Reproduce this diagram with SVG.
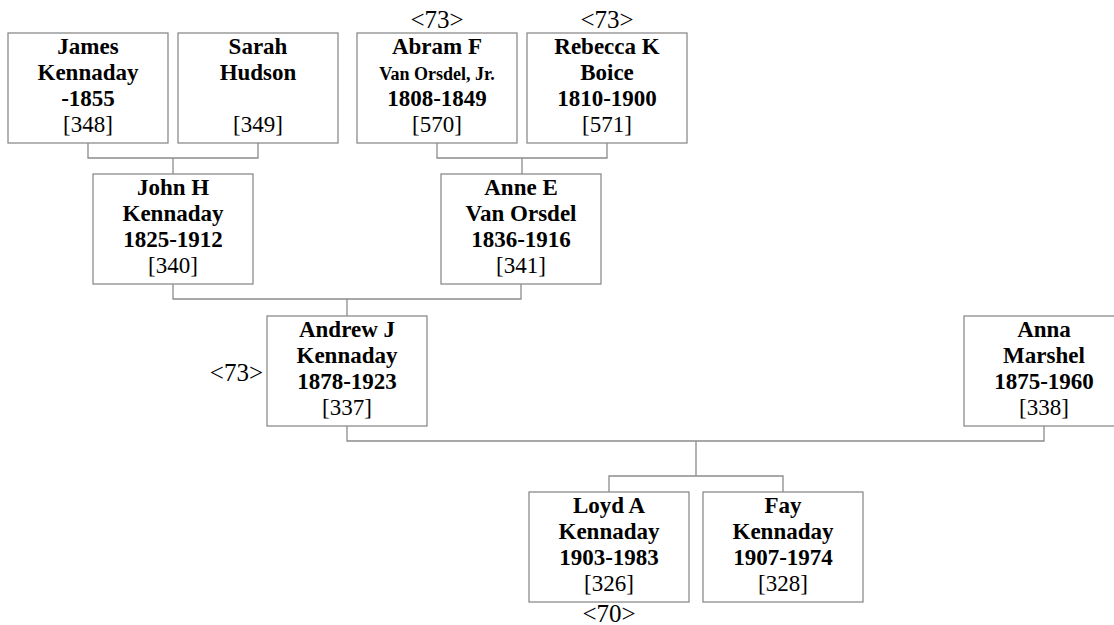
<svg xmlns="http://www.w3.org/2000/svg" width="1114" height="625" viewBox="0 0 1114 625">
<style>
rect.box{fill:#fff;stroke:#8c8c8c;stroke-width:1.3}
text{font-family:"Liberation Serif","Times New Roman",serif;fill:#000;text-anchor:middle}
.b{font-weight:bold;font-size:23px}
.s{font-weight:bold;font-size:18px}
.n{font-size:23px}
.m{font-size:25px}
#connectors path{fill:none;stroke:#8c8c8c;stroke-width:1.3}
</style>
<rect width="1114" height="625" fill="#fff"/>
<g id="connectors">
<path d="M88,143V158H258V143M173,158V174"/>
<path d="M437,143V158H607V143M522,158V174"/>
<path d="M173,284V299H521V284M347,299V316"/>
<path d="M347,426V441H1044V426M696,441V476"/>
<path d="M609,492V476H783V492"/>
</g>
<g id="n348"><rect class="box" x="8" y="33" width="160" height="110"/>
<text class="b" x="88" y="54">James</text><text class="b" x="88" y="80">Kennaday</text><text class="b" x="88" y="106">-1855</text><text class="n" x="88" y="132">[348]</text></g>
<g id="n349"><rect class="box" x="178" y="33" width="160" height="110"/>
<text class="b" x="258" y="54">Sarah</text><text class="b" x="258" y="80">Hudson</text><text class="n" x="258" y="132">[349]</text></g>
<g id="n570"><text class="m" x="437" y="28">&lt;73&gt;</text><rect class="box" x="357" y="33" width="160" height="110"/>
<text class="b" x="437" y="54">Abram F</text><text class="s" x="437" y="80">Van Orsdel, Jr.</text><text class="b" x="437" y="106">1808-1849</text><text class="n" x="437" y="132">[570]</text></g>
<g id="n571"><text class="m" x="607" y="28">&lt;73&gt;</text><rect class="box" x="527" y="33" width="160" height="110"/>
<text class="b" x="607" y="54">Rebecca K</text><text class="b" x="607" y="80">Boice</text><text class="b" x="607" y="106">1810-1900</text><text class="n" x="607" y="132">[571]</text></g>
<g id="n340"><rect class="box" x="93" y="174" width="160" height="110"/>
<text class="b" x="173" y="195">John H</text><text class="b" x="173" y="221">Kennaday</text><text class="b" x="173" y="247">1825-1912</text><text class="n" x="173" y="273">[340]</text></g>
<g id="n341"><rect class="box" x="441" y="174" width="160" height="110"/>
<text class="b" x="521" y="195">Anne E</text><text class="b" x="521" y="221">Van Orsdel</text><text class="b" x="521" y="247">1836-1916</text><text class="n" x="521" y="273">[341]</text></g>
<g id="n337"><text class="m" x="263" y="381" style="text-anchor:end">&lt;73&gt;</text><rect class="box" x="267" y="316" width="160" height="110"/>
<text class="b" x="347" y="337">Andrew J</text><text class="b" x="347" y="363">Kennaday</text><text class="b" x="347" y="389">1878-1923</text><text class="n" x="347" y="415">[337]</text></g>
<g id="n338"><rect class="box" x="964" y="316" width="160" height="110"/>
<text class="b" x="1044" y="337">Anna</text><text class="b" x="1044" y="363">Marshel</text><text class="b" x="1044" y="389">1875-1960</text><text class="n" x="1044" y="415">[338]</text></g>
<g id="n326"><rect class="box" x="529" y="492" width="160" height="110"/>
<text class="b" x="609" y="513">Loyd A</text><text class="b" x="609" y="539">Kennaday</text><text class="b" x="609" y="565">1903-1983</text><text class="n" x="609" y="591">[326]</text><text class="m" x="609" y="622">&lt;70&gt;</text></g>
<g id="n328"><rect class="box" x="703" y="492" width="160" height="110"/>
<text class="b" x="783" y="513">Fay</text><text class="b" x="783" y="539">Kennaday</text><text class="b" x="783" y="565">1907-1974</text><text class="n" x="783" y="591">[328]</text></g>
</svg>
